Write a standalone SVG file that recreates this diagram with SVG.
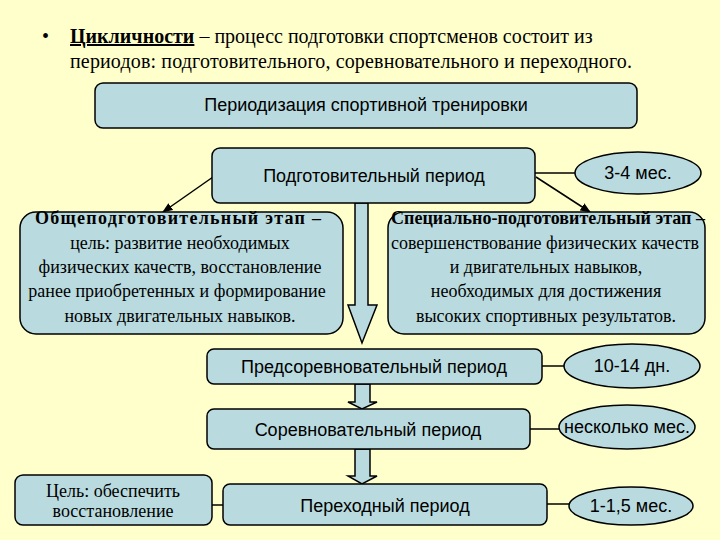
<svg xmlns="http://www.w3.org/2000/svg" width="720" height="540" viewBox="0 0 720 540">
<defs>
<style>
.bg{fill:#FFFFCC}
.box{fill:#B9DBDF;stroke:#000;stroke-width:1.5}
.ln{stroke:#000;stroke-width:1.5;fill:none}
.sans{font-family:"Liberation Sans",Arial,sans-serif;font-size:18px;fill:#000;text-anchor:middle}
.serif{font-family:"Liberation Serif","Times New Roman",serif;font-size:18px;fill:#000;text-anchor:middle}
.bold{font-family:"Liberation Serif","Times New Roman",serif;font-size:18px;font-weight:bold;fill:#000;text-anchor:middle}
.head{font-family:"Liberation Serif","Times New Roman",serif;font-size:20px;fill:#000}
</style>
<marker id="ah" viewBox="0 0 10 10" refX="9" refY="5" markerWidth="7" markerHeight="7" orient="auto-start-reverse"><path d="M0,1 L10,5 L0,9 z" fill="#000"/></marker>
</defs>
<rect class="bg" x="0" y="0" width="720" height="540"/>
<g id="heading">
<text class="head" x="42" y="43">•</text>
<text class="head" x="70" y="43"><tspan font-weight="bold" text-decoration="underline">Цикличности</tspan> – процесс подготовки спортсменов состоит из</text>
<text class="head" x="70" y="68" textLength="562">периодов: подготовительного, соревновательного и переходного.</text>
</g>
<g id="connectors">
<line class="ln" x1="213" y1="177" x2="163" y2="212" marker-end="url(#ah)"/>
<line class="ln" x1="536" y1="177" x2="590" y2="212" marker-end="url(#ah)"/>
<line class="ln" x1="535" y1="173" x2="575" y2="173"/>
<line class="ln" x1="542" y1="366" x2="564" y2="366"/>
<line class="ln" x1="530" y1="429" x2="559" y2="429"/>
<line class="ln" x1="547" y1="504" x2="569" y2="504"/>
<line class="ln" x1="212" y1="505" x2="223" y2="505"/>
<path class="box" d="M355,203 L368,203 L368,305 L377,305 L362,343 L348,305 L355,305 Z"/>
<path class="box" d="M355,384 L370,384 L370,402 L377,402 L362,409 L348,402 L355,402 Z"/>
<path class="box" d="M355,449 L370,449 L370,476 L377,476 L362,484 L348,476 L355,476 Z"/>
</g>
<g id="periodization">
<rect class="box" x="95" y="83" width="542" height="45" rx="8"/>
<text class="sans" x="366" y="111">Периодизация спортивной тренировки</text>
</g>
<g id="prep-period">
<rect class="box" x="212" y="148" width="323" height="55" rx="8"/>
<text class="sans" x="374" y="182">Подготовительный период</text>
</g>
<g id="prep-duration">
<ellipse class="box" cx="638" cy="173" rx="63" ry="21"/>
<text class="sans" x="638" y="179">3-4 мес.</text>
</g>
<g id="general-stage">
<rect class="box" x="20" y="212" width="323" height="122" rx="16"/>
<text class="bold" x="178" y="224" textLength="286">Общеподготовительный  этап –</text>
<text class="serif" x="180" y="249" font-size="18.5">цель: развитие необходимых</text>
<text class="serif" x="180" y="273" font-size="18.5">физических качеств, восстановление</text>
<text class="serif" x="177" y="297" font-size="18.5">ранее приобретенных и формирование</text>
<text class="serif" x="180" y="322" font-size="18.5">новых двигательных навыков.</text>
</g>
<g id="special-stage">
<rect class="box" x="388" y="212" width="317" height="122" rx="16"/>
<text class="bold" x="548" y="224" textLength="314">Специально-подготовительный этап –</text>
<text class="serif" x="545" y="249">совершенствование физических качеств</text>
<text class="serif" x="546" y="273">и двигательных навыков,</text>
<text class="serif" x="546" y="297">необходимых для достижения</text>
<text class="serif" x="546" y="322">высоких спортивных результатов.</text>
</g>
<g id="precomp-period">
<rect class="box" x="207" y="349" width="335" height="35" rx="7"/>
<text class="sans" x="374" y="373">Предсоревновательный период</text>
</g>
<g id="precomp-duration">
<ellipse class="box" cx="632" cy="366" rx="68" ry="22"/>
<text class="sans" x="632" y="372">10-14 дн.</text>
</g>
<g id="comp-period">
<rect class="box" x="207" y="409" width="323" height="40" rx="7"/>
<text class="sans" x="368" y="436">Соревновательный период</text>
</g>
<g id="comp-duration">
<ellipse class="box" cx="627" cy="427" rx="68" ry="22"/>
<text class="sans" x="627" y="433">несколько мес.</text>
</g>
<g id="trans-period">
<rect class="box" x="223" y="484" width="324" height="41" rx="7"/>
<text class="sans" x="385" y="512">Переходный период</text>
</g>
<g id="trans-duration">
<ellipse class="box" cx="631" cy="506" rx="62" ry="19"/>
<text class="sans" x="631" y="512">1-1,5 мес.</text>
</g>
<g id="trans-goal">
<rect class="box" x="15" y="475" width="197" height="50" rx="8"/>
<text class="serif" x="113" y="497">Цель: обеспечить</text>
<text class="serif" x="113" y="517">восстановление</text>
</g>
</svg>
